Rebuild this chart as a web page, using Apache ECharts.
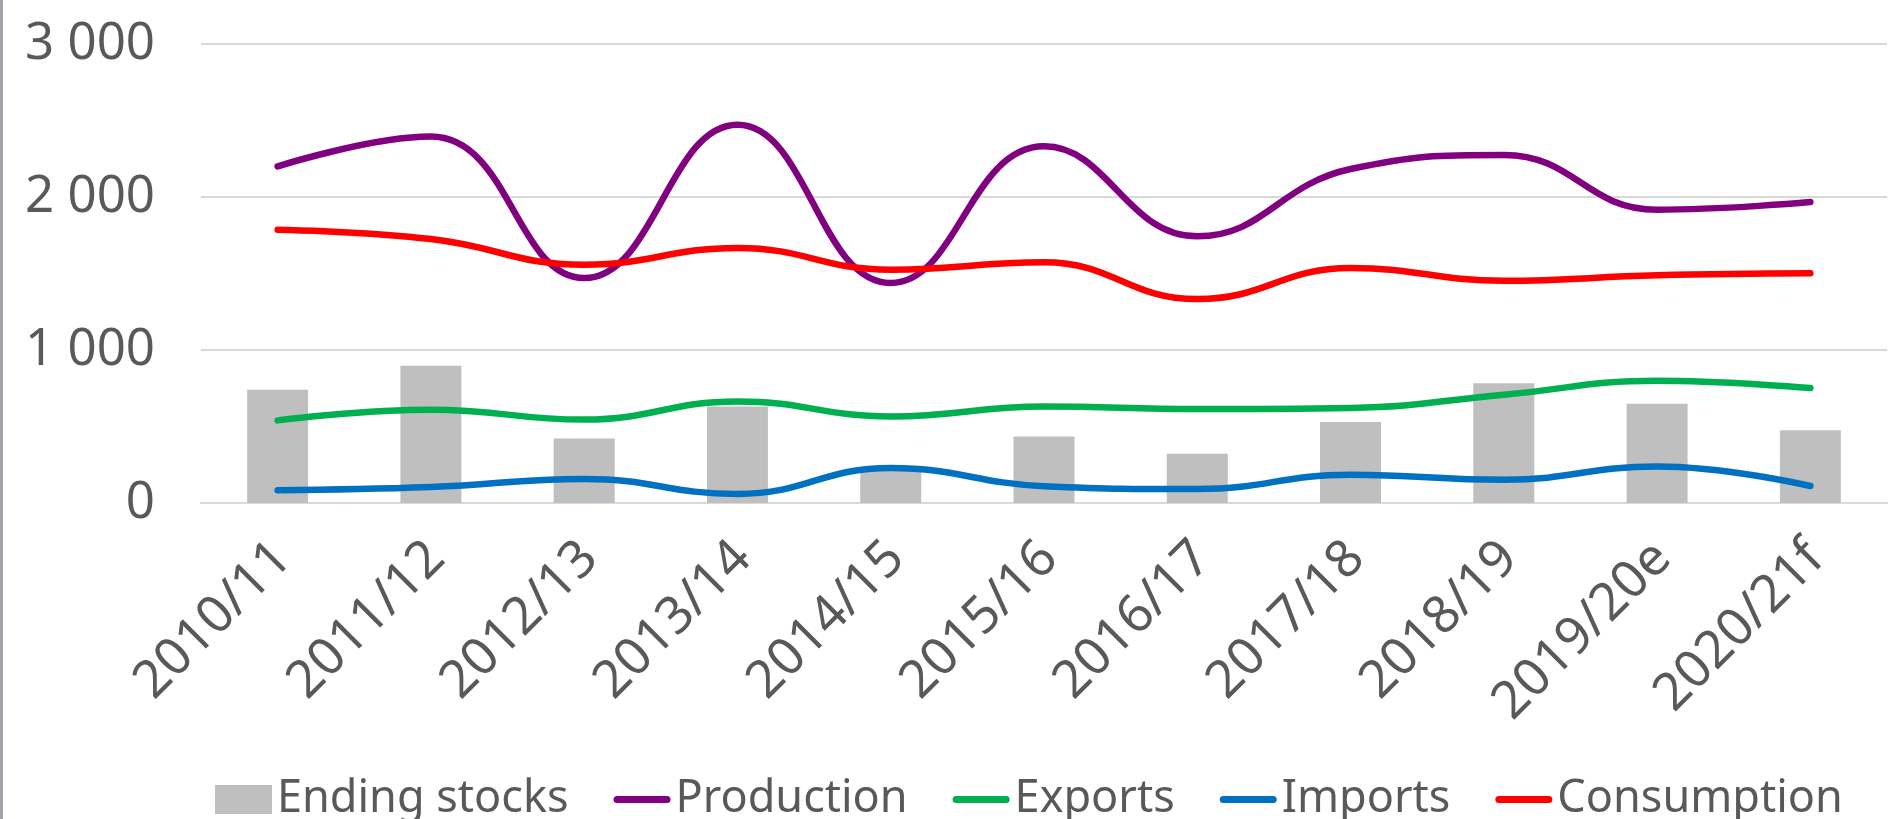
<!DOCTYPE html>
<html>
<head>
<meta charset="utf-8">
<script src="https://cdn.jsdelivr.net/npm/echarts@6/dist/echarts.min.js"></script>
<style>
html,body{margin:0;padding:0;background:#fff;}
#chart{width:1892px;height:819px;}
</style>
</head>
<body>
<div id="chart"></div>
<script>
const categories = ['2010/11','2011/12','2012/13','2013/14','2014/15','2015/16','2016/17','2017/18','2018/19','2019/20e','2020/21f'];
const endingStocks = [740, 897, 422, 631, 220, 434, 322, 529, 782, 649, 475];
const production   = [2200, 2395, 1470, 2472, 1438, 2331, 1743, 2183, 2275, 1917, 1967];
const exports      = [540, 610, 545, 664, 566, 631, 614, 621, 708, 799, 751];
const imports      = [84, 104, 157, 59, 229, 110, 91, 185, 152, 239, 111];
const consumption  = [1786, 1725, 1558, 1667, 1525, 1573, 1333, 1536, 1453, 1488, 1501];
const yTickLabels  = ['0', '1 000', '2 000', '3 000'];

const FONT = 'Noto Sans';
const TXT = '#595959';
const linePath = 'path://M3.5,0H53.5A3.5,3.5,0,0,1,53.5,7H3.5A3.5,3.5,0,0,1,3.5,0Z';

function lineSeries(name, data, color) {
  return {
    name: name, type: 'line', data: data, smooth: 0.45,
    symbol: 'none',
    lineStyle: { color: color, width: 6.5, cap: 'round', join: 'round' },
    itemStyle: { color: color },
    emphasis: { disabled: true }
  };
}

const chart = echarts.init(document.getElementById('chart'), null, { renderer: 'canvas' });
chart.setOption({
  animation: false,
  backgroundColor: '#ffffff',
  grid: { left: 201, right: 5, top: 44, bottom: 316, containLabel: false },
  graphic: [{ type: 'rect', left: 0, top: 0, shape: { width: 3, height: 819 }, style: { fill: '#A0A6AB' } }],
  legend: {
    left: 210, top: 772,
    itemWidth: 57, itemHeight: 29, itemGap: 45,
    textStyle: { fontFamily: FONT, fontSize: 45, color: TXT, padding: [0,0,0,0] },
    data: [
      { name: 'Ending stocks', icon: 'rect' },
      { name: 'Production', icon: linePath },
      { name: 'Exports', icon: linePath },
      { name: 'Imports', icon: linePath },
      { name: 'Consumption', icon: linePath }
    ]
  },
  xAxis: {
    type: 'category', data: categories, boundaryGap: true,
    axisLine: { show: true, lineStyle: { color: '#D9D9D9', width: 2 } },
    axisTick: { show: false },
    axisLabel: { interval: 0, rotate: 45, margin: 53, fontFamily: FONT, fontSize: 52, color: TXT,
      padding: [0, -8, 0, 0] }
  },
  yAxis: {
    type: 'value', min: 0, max: 3000, interval: 1000,
    axisLine: { show: false }, axisTick: { show: false },
    splitLine: { lineStyle: { color: '#D9D9D9', width: 2 } },
    axisLabel: { margin: 46, fontFamily: FONT, fontSize: 51, color: TXT,
      formatter: function (v) { return yTickLabels[Math.round(v / 1000)]; } }
  },
  series: [
    { name: 'Ending stocks', type: 'bar', data: endingStocks, barWidth: 61,
      itemStyle: { color: '#BFBFBF' }, emphasis: { disabled: true } },
    lineSeries('Production', production, '#800080'),
    lineSeries('Exports', exports, '#00B050'),
    lineSeries('Imports', imports, '#0070C0'),
    lineSeries('Consumption', consumption, '#FF0000')
  ]
});
</script>
</body>
</html>
